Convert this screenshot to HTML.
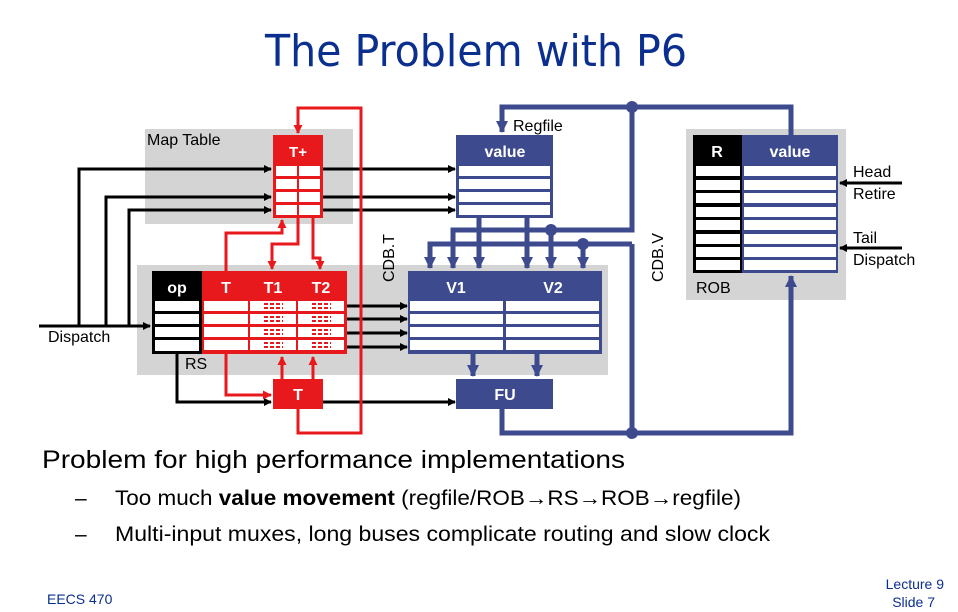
<!DOCTYPE html>
<html><head><meta charset="utf-8"><style>
html,body{margin:0;padding:0;background:#fff;}
svg{display:block;}
text{font-family:"Liberation Sans",sans-serif;}
</style></head><body>
<svg width="958" height="612" viewBox="0 0 958 612" xmlns="http://www.w3.org/2000/svg">
<defs>
<marker id="ak" markerWidth="8" markerHeight="8" refX="7" refY="4" orient="auto" markerUnits="userSpaceOnUse"><path d="M0,0 L8,4 L0,8 z" fill="#000"/></marker>
<marker id="ar" markerWidth="9" markerHeight="9" refX="8" refY="4.5" orient="auto" markerUnits="userSpaceOnUse"><path d="M0,0 L9,4.5 L0,9 z" fill="#e8191c"/></marker>
<marker id="ab" markerWidth="12" markerHeight="12" refX="11" refY="6" orient="auto" markerUnits="userSpaceOnUse"><path d="M0,0 L12,6 L0,12 z" fill="#3e4a8e"/></marker>
</defs>

<text x="265" y="66" font-size="44" fill="#0b2f8f" textLength="422" lengthAdjust="spacingAndGlyphs" style="font-family:'DejaVu Sans',sans-serif">The Problem with P6</text>

<!-- gray backgrounds -->
<rect x="145" y="129" width="208" height="95" fill="#d4d4d4"/>
<rect x="137" y="265" width="471" height="110" fill="#d4d4d4"/>
<rect x="686" y="129" width="160" height="171" fill="#d4d4d4"/>

<!-- blue buses -->
<g stroke="#3e4a8e" stroke-width="5" fill="none">
<path d="M632,107 H502 V132" marker-end="url(#ab)"/>
<path d="M632,107 H791 V135"/>
<path d="M632,107 V230 H453 V268" marker-end="url(#ab)"/>
<path d="M632,244 H430 V268" marker-end="url(#ab)"/>
<path d="M551,230 V268" marker-end="url(#ab)"/>
<path d="M583,244 V268" marker-end="url(#ab)"/>
<path d="M479,218 V268" marker-end="url(#ab)"/>
<path d="M527,218 V268" marker-end="url(#ab)"/>
<path d="M632,244 V433"/>
<path d="M473,354 V376" marker-end="url(#ab)"/>
<path d="M537,354 V376" marker-end="url(#ab)"/>
<path d="M502,409 V433 H791 V276" marker-end="url(#ab)"/>
</g>
<g fill="#3e4a8e">
<circle cx="632" cy="107" r="6"/><circle cx="632" cy="433" r="6"/>
<circle cx="551" cy="230" r="6"/><circle cx="583" cy="244" r="6"/>
</g>

<!-- black lines -->
<g stroke="#000" stroke-width="3" fill="none">
<path d="M39,326 H150" marker-end="url(#ak)"/>
<path d="M79,326 V169 H271" marker-end="url(#ak)"/>
<path d="M106,326 V197 H271" marker-end="url(#ak)"/>
<path d="M129,326 V210 H271" marker-end="url(#ak)"/>
<path d="M323,169 H455" marker-end="url(#ak)"/>
<path d="M323,197 H455" marker-end="url(#ak)"/>
<path d="M323,210 H455" marker-end="url(#ak)"/>
<path d="M347,306 H407" marker-end="url(#ak)"/>
<path d="M347,319 H407" marker-end="url(#ak)"/>
<path d="M347,333 H407" marker-end="url(#ak)"/>
<path d="M347,347 H407" marker-end="url(#ak)"/>
<path d="M177,354 V402 H271" marker-end="url(#ak)"/>
<path d="M323,402 H455" marker-end="url(#ak)"/>
<path d="M902,183 H840" marker-end="url(#ak)"/>
<path d="M902,248 H840" marker-end="url(#ak)"/>
</g>

<!-- red lines -->
<g stroke="#e8191c" stroke-width="3" fill="none">
<path d="M298,409 V433 H361 V108 H298 V133" marker-end="url(#ar)"/>
<path d="M226,271 V233 H282 V220" marker-end="url(#ar)"/>
<path d="M298,170 V244 H272 V269" marker-end="url(#ar)"/>
<path d="M313,197 V258 H320 V269" marker-end="url(#ar)"/>
<path d="M226,354 V395 H271" marker-end="url(#ar)"/>
<path d="M282,379 V357" marker-end="url(#ar)"/>
<path d="M313,379 V357" marker-end="url(#ar)"/>
</g>

<!-- T+ -->
<rect x="273" y="135" width="50" height="83" fill="#e8191c"/>
<g fill="#fff">
<rect x="276" y="166" width="44" height="10"/><rect x="276" y="179" width="44" height="10"/>
<rect x="276" y="192" width="44" height="10"/><rect x="276" y="205" width="44" height="10"/>
</g>
<line x1="298" y1="166" x2="298" y2="215" stroke="#e8191c" stroke-width="2"/>
<text x="298" y="157" font-size="15" font-weight="bold" fill="#fff" text-anchor="middle">T+</text>

<!-- Regfile -->
<rect x="456" y="135" width="97" height="83" fill="#3e4a8e"/>
<g fill="#fff">
<rect x="459" y="166" width="91" height="10"/><rect x="459" y="179" width="91" height="10"/>
<rect x="459" y="192" width="91" height="10"/><rect x="459" y="205" width="91" height="10"/>
</g>
<text x="505" y="157" font-size="16" font-weight="bold" fill="#fff" text-anchor="middle">value</text>
<text x="513" y="131" font-size="16" fill="#000">Regfile</text>

<!-- RS op -->
<rect x="152" y="271" width="50" height="83" fill="#000"/>
<g fill="#fff">
<rect x="155" y="301" width="44" height="10"/><rect x="155" y="314" width="44" height="10"/>
<rect x="155" y="327" width="44" height="10"/><rect x="155" y="340" width="44" height="11"/>
</g>
<text x="177" y="293" font-size="16" font-weight="bold" fill="#fff" text-anchor="middle">op</text>
<!-- RS T/T1/T2 -->
<rect x="202" y="271" width="145" height="83" fill="#e8191c"/>
<g fill="#fff">
<rect x="204" y="301" width="140" height="10"/><rect x="204" y="314" width="140" height="10"/>
<rect x="204" y="327" width="140" height="10"/><rect x="204" y="340" width="140" height="10"/>
</g>
<line x1="249" y1="300" x2="249" y2="354" stroke="#e8191c" stroke-width="2"/>
<line x1="297" y1="300" x2="297" y2="354" stroke="#e8191c" stroke-width="2"/>
<g stroke="#e8191c" stroke-width="2" stroke-dasharray="4,2">
<line x1="264" y1="304" x2="283" y2="304"/><line x1="264" y1="308" x2="283" y2="308"/>
<line x1="264" y1="317" x2="283" y2="317"/><line x1="264" y1="321" x2="283" y2="321"/>
<line x1="264" y1="330" x2="283" y2="330"/><line x1="264" y1="334" x2="283" y2="334"/>
<line x1="264" y1="343" x2="283" y2="343"/><line x1="264" y1="347" x2="283" y2="347"/>
<line x1="312" y1="304" x2="331" y2="304"/><line x1="312" y1="308" x2="331" y2="308"/>
<line x1="312" y1="317" x2="331" y2="317"/><line x1="312" y1="321" x2="331" y2="321"/>
<line x1="312" y1="330" x2="331" y2="330"/><line x1="312" y1="334" x2="331" y2="334"/>
<line x1="312" y1="343" x2="331" y2="343"/><line x1="312" y1="347" x2="331" y2="347"/>
</g>
<g font-size="16" font-weight="bold" fill="#fff" text-anchor="middle">
<text x="226" y="293">T</text><text x="273" y="293">T1</text><text x="321" y="293">T2</text>
</g>

<!-- V1 V2 -->
<rect x="408" y="271" width="194" height="83" fill="#3e4a8e"/>
<g fill="#fff">
<rect x="410" y="301" width="93" height="10"/><rect x="410" y="314" width="93" height="10"/>
<rect x="410" y="327" width="93" height="10"/><rect x="410" y="340" width="93" height="10"/>
<rect x="506" y="301" width="93" height="10"/><rect x="506" y="314" width="93" height="10"/>
<rect x="506" y="327" width="93" height="10"/><rect x="506" y="340" width="93" height="10"/>
</g>
<g font-size="16" font-weight="bold" fill="#fff" text-anchor="middle">
<text x="456" y="293">V1</text><text x="553" y="293">V2</text>
</g>

<!-- T box and FU -->
<rect x="273" y="379" width="50" height="30" fill="#e8191c"/>
<text x="298" y="400" font-size="16" font-weight="bold" fill="#fff" text-anchor="middle">T</text>
<rect x="456" y="379" width="97" height="30" fill="#3e4a8e"/>
<text x="505" y="400" font-size="16" font-weight="bold" fill="#fff" text-anchor="middle">FU</text>

<!-- ROB -->
<rect x="693" y="135" width="49" height="138" fill="#000"/>
<rect x="742" y="135" width="96" height="138" fill="#3e4a8e"/>
<g fill="#fff">
<rect x="696" y="166" width="44" height="10"/><rect x="696" y="180" width="44" height="10"/>
<rect x="696" y="193" width="44" height="10"/><rect x="696" y="207" width="44" height="10"/>
<rect x="696" y="220" width="44" height="10"/><rect x="696" y="234" width="44" height="10"/>
<rect x="696" y="247" width="44" height="10"/><rect x="696" y="260" width="44" height="10"/>
<rect x="744" y="166" width="92" height="10"/><rect x="744" y="180" width="92" height="10"/>
<rect x="744" y="193" width="92" height="10"/><rect x="744" y="207" width="92" height="10"/>
<rect x="744" y="220" width="92" height="10"/><rect x="744" y="234" width="92" height="10"/>
<rect x="744" y="247" width="92" height="10"/><rect x="744" y="260" width="92" height="10"/>
</g>
<text x="717" y="157" font-size="16" font-weight="bold" fill="#fff" text-anchor="middle">R</text>
<text x="790" y="157" font-size="16" font-weight="bold" fill="#fff" text-anchor="middle">value</text>

<!-- labels -->
<g font-size="16" fill="#000">
<text x="147" y="145">Map Table</text>
<text x="48" y="342">Dispatch</text>
<text x="185" y="369">RS</text>
<text x="696" y="293">ROB</text>
<text x="853" y="177">Head</text>
<text x="853" y="199">Retire</text>
<text x="853" y="243">Tail</text>
<text x="853" y="265">Dispatch</text>
<text transform="translate(394,282) rotate(-90)">CDB.T</text>
<text transform="translate(663,282) rotate(-90)">CDB.V</text>
</g>

<!-- bottom text -->
<text x="42" y="468" font-size="25" fill="#000" textLength="583" lengthAdjust="spacingAndGlyphs">Problem for high performance implementations</text>
<text x="75" y="505" font-size="21" fill="#000">–</text>
<text x="115" y="505" font-size="21" fill="#000" textLength="626" lengthAdjust="spacingAndGlyphs">Too much <tspan font-weight="bold">value movement</tspan> (regfile/ROB→RS→ROB→regfile)</text>
<text x="75" y="541" font-size="21" fill="#000">–</text>
<text x="115" y="541" font-size="21" fill="#000" textLength="655" lengthAdjust="spacingAndGlyphs">Multi-input muxes, long buses complicate routing and slow clock</text>
<g fill="#0b2f8f" font-size="14" style="font-family:'DejaVu Sans',sans-serif">
<text x="47" y="604">EECS 470</text>
<text x="944" y="589" text-anchor="end">Lecture 9</text>
<text x="935" y="607" text-anchor="end">Slide 7</text>
</g>
</svg>
</body></html>
